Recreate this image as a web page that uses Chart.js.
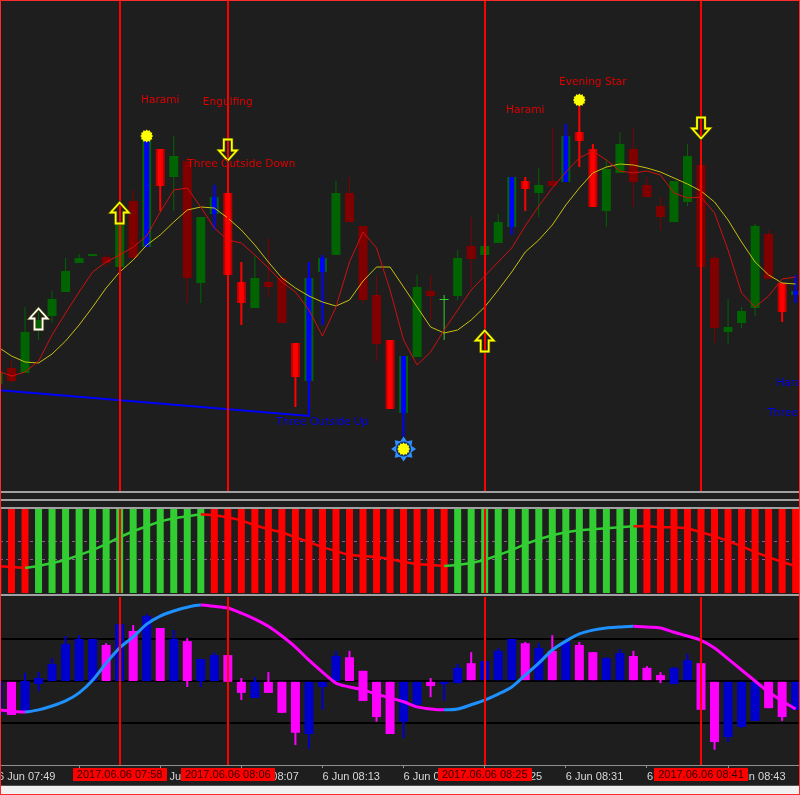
<!DOCTYPE html>
<html>
<head>
<meta charset="utf-8">
<title>Candlestick patterns chart</title>
<script src="https://cdn.jsdelivr.net/npm/chart.js@4.4.1/dist/chart.umd.min.js"></script>
<style>
  html, body { margin:0; padding:0; background:#1e1e1e; }
  #wrap { position:relative; width:800px; height:795px; background:#1e1e1e; overflow:hidden; }
  #wrap canvas { position:absolute; left:0; }
  .sep { position:absolute; left:0; width:800px; height:2px; background:#a0a0a0; }
  #footline { position:absolute; left:0; top:785px; width:800px; height:1px; background:#505050; }
  #foot { position:absolute; left:0; top:786px; width:800px; height:9px; background:#f0f0f0; }
  #frame { position:absolute; left:0; top:0; width:800px; height:795px; box-sizing:border-box; border:1px solid #ff2a2a; pointer-events:none; }
</style>
</head>
<body>
<div id="wrap">
  <canvas id="main" width="800" height="491" style="top:0px"></canvas>
  <div class="sep" style="top:491px"></div>
  <div class="sep" style="top:499px"></div>
  <div class="sep" style="top:507px"></div>
  <canvas id="trend" width="800" height="84" style="top:509px"></canvas>
  <div class="sep" style="top:594px"></div>
  <canvas id="osc" width="800" height="188" style="top:597px"></canvas>
  <div id="footline"></div>
  <div id="foot"></div>
  <div id="frame"></div>
</div>
<script>
// ---------------- categories (one bar per minute, 6 Jun 2017) ----------------
const times = [
  '07:49','07:50','07:51','07:52','07:53','07:54','07:55','07:56','07:57','07:58',
  '07:59','08:00','08:01','08:02','08:03','08:04','08:05','08:06','08:07','08:08',
  '08:09','08:10','08:11','08:12','08:13','08:14','08:15','08:16','08:17','08:18',
  '08:19','08:20','08:21','08:22','08:23','08:24','08:25','08:26','08:27','08:28',
  '08:29','08:30','08:31','08:32','08:33','08:34','08:35','08:36','08:37','08:38',
  '08:39','08:40','08:41','08:42','08:43','08:44','08:45','08:46','08:47','08:48'
];

// ---------------- price candles (points) ----------------
const open = [
  116,132,127,170,184,208,237,244,243,233,
  299,253,351,323,339,217,286,307,218,192,
  218,222,157,119,228,245,307,274,205,160,
  87,143,209,200,204,254,245,257,273,319,
  307,319,318,368,351,289,327,351,315,294,
  278,298,335,242,168,177,192,266,217,205
];
const high = [
  128,140,193,188,209,242,246,246,245,282,
  310,362,351,364,343,283,315,307,238,244,
  262,225,157,238,245,319,323,274,225,160,
  144,225,225,205,250,283,256,286,323,323,
  332,372,376,397,356,341,368,372,323,303,
  319,356,335,245,201,193,276,270,217,225
];
const low = [
  114,117,127,160,177,208,237,244,233,233,
  242,253,289,289,197,197,270,225,175,192,
  203,177,93,119,175,245,278,197,139,91,
  63,143,180,160,200,213,245,257,265,289,
  283,314,318,333,293,273,327,293,303,270,
  278,294,233,157,156,172,184,221,178,197
];
const close = [
  127,119,168,180,201,229,242,246,237,278,
  242,360,314,344,222,283,303,225,197,222,
  213,177,123,222,242,307,278,200,156,91,
  144,213,204,201,242,241,254,278,323,311,
  315,314,364,359,293,331,356,318,303,283,
  319,344,233,172,173,189,274,221,188,209
];
// pattern highlight of each candle
const candleSignal = [
  '-','-','-','-','-','-','-','-','-','-',
  '-','bull','bear','-','-','-','bull','bear','bear','-',
  '-','-','bear','bull','bull','-','-','-','-','bear',
  'bull','-','-','doji','-','-','-','-','bull','bear',
  '-','-','bull','bear','bear','-','-','-','-','-',
  '-','-','-','-','-','-','-','-','bear','bull'
];
const fastMA = [
  129,124,128,139,165,187,208,228,238,245,
  253,264,288,310,312,293,272,260,257,245,
  232,218,208,190,164,193,238,268,252,210,
  160,135,148,170,190,210,224,238,252,274,
  294,312,328,342,349,340,329,327,329,325,
  307,302,303,287,250,207,193,204,221,223
];
const slowMA = [
  153,144,138,137,146,159,175,193,212,228,
  240,255,265,278,290,293,292,282,270,255,
  238,222,212,204,198,194,200,219,233,233,
  213,193,173,167,170,180,193,210,228,248,
  260,275,295,312,327,333,336,335,332,328,
  322,316,309,298,280,258,238,225,217,216
];
const supportTimes = ['07:49','08:12','08:12'];
const supportValues = [110, 84, 119];

// pattern labels, arrows and stars
const patternTimes  = ['08:01','08:06','08:07','08:28','08:33','08:13','08:48','08:49'];
const patternValues = [400, 398, 336, 390, 418, 78, 117, 87];
const patternNames  = ['Harami','Engulfing','Three Outside Down','Harami','Evening Star','Three Outside Up','Harami','Three Inside Up'];
const patternSide   = ['bear','bear','bear','bear','bear','bull','bull','bull'];
const arrowTimes  = ['07:52','07:58','08:06','08:25','08:41'];
const arrowValues = [181, 287, 350, 159, 372];
const arrowDirs   = ['up','up','down','up','down'];
const arrowColors = ['#ffffff','#ffff00','#ffff00','#ffff00','#ffff00'];
const starTimes  = ['08:00','08:32','08:19'];
const starValues = [364, 400, 51];
const starRinged = [false, false, true];

// vertical marker lines
const markerTimes  = ['07:58','08:06','08:25','08:41'];
const markerLabels = ['2017.06.06 07:58','2017.06.06 08:06','2017.06.06 08:25','2017.06.06 08:41'];

// ---------------- trend panel ----------------
const trendState = [
  -1,-1,-1, 1,1,1,1,1,1,1,1,1,1,1,1,1,
  -1,-1,-1,-1,-1,-1,-1,-1,-1,-1,-1,-1,-1,-1,-1,-1,-1,-1,
  1,1,1,1,1,1,1,1,1,1,1,1,1,1,
  -1,-1,-1,-1,-1,-1,-1,-1,-1,-1,-1,-1
];
const trendLine = [
  32.2,31.1,30.0,32.2,35.6,38.9,44.4,50.0,56.7,64.4,
  71.1,76.7,82.2,85.6,87.8,90.0,88.9,86.7,83.3,77.8,
  73.3,70.0,64.4,58.9,53.3,48.9,44.4,43.3,42.2,40.0,
  36.7,34.4,33.3,32.2,33.3,35.6,38.9,44.4,50.0,56.7,
  62.2,66.7,70.0,72.2,73.3,74.4,75.6,76.7,76.7,75.6,
  75.6,74.4,70.0,65.6,60.0,54.4,47.8,42.2,36.7,32.2
];
const trendLevels = [60, 40];
const trendMin = 2, trendMax = 96;

// ---------------- oscillator panel ----------------
const oscOpen = [
  -80,-2,-71,-7,0,0,0,0,85,0,
  118,0,125,0,94,0,0,61,-2,-40,
  -2,-2,-2,-125,-14,0,56,24,-2,-2,
  -96,-56,-2,-7,-5,42,2,2,2,89,
  2,71,2,85,68,2,2,59,31,14,
  -7,2,42,-2,-132,-108,-94,-2,-2,-68
];
const oscClose = [
  0,-80,0,7,40,87,99,99,0,134,
  0,153,0,99,0,52,61,-2,-28,-2,
  -28,-75,-122,-2,-2,59,0,-47,-85,-125,
  -2,-2,-12,-2,31,2,47,71,99,2,
  78,2,92,2,2,54,66,2,2,2,
  31,49,-68,-144,-2,-2,-2,-64,-85,-2
];
const oscHigh = [
  0,-2,19,21,54,106,108,99,89,134,
  132,158,125,120,101,52,68,61,7,9,
  21,-2,-2,-2,-2,71,71,24,-2,-2,
  -2,-2,7,-2,40,68,47,78,99,92,
  89,108,101,92,68,56,75,71,35,21,
  33,64,42,-2,-2,-2,-2,-2,-2,-2
];
const oscLow = [
  -92,-80,-71,-24,0,0,0,0,0,0,
  0,0,0,0,-14,-14,0,-2,-45,-40,
  -28,-75,-151,-160,-68,0,0,-47,-96,-125,
  -134,-56,-38,-47,-5,2,2,2,2,2,
  2,2,2,2,2,2,2,2,2,-5,
  -7,2,-68,-162,-144,-111,-94,-64,-94,-68
];
const oscSignal = [
  -68,-71,-73,-68,-59,-47,-28,2,42,78,
  104,134,153,165,174,179,176,172,160,146,
  129,106,80,49,21,-5,-14,-21,-31,-40,
  -49,-61,-66,-68,-66,-56,-45,-31,-14,14,
  42,73,94,111,120,125,127,129,127,125,
  115,106,96,78,52,26,0,-26,-47,-66
];
const oscLevels = [100, 0, -100];

// ---------------- axis ----------------
const tickTimes  = ['07:49','07:55','08:01','08:07','08:13','08:19','08:25','08:31','08:37','08:43'];
const tickLabels = ['6 Jun 07:49','6 Jun 07:55','6 Jun 08:01','6 Jun 08:07','6 Jun 08:13','6 Jun 08:19','6 Jun 08:25','6 Jun 08:31','6 Jun 08:37','6 Jun 08:43'];

// ---------------- helpers ----------------
const xOf = t => { const [h, m] = t.split(':').map(Number); return h * 60 + m - (7 * 60 + 49); };
const xMin = 0.1494, xMax = 59.3214;
const pxX = (c, t) => c.scales.x.getPixelForValue(xOf(t));
const pxY = (c, v) => c.scales.y.getPixelForValue(v);

const isUp = k => close[k] >= open[k];
const isSig = k => candleSignal[k] === 'bull' || candleSignal[k] === 'bear';
const outerFill = k => ({bull:'#006400', bear:'#c00000', doji:'#32cd32'}[candleSignal[k]] || (isUp(k) ? '#006400' : '#800000'));
const innerFill = k => ({bull:'#0000ff', bear:'#ff0000'}[candleSignal[k]] || outerFill(k));
const wickColor = k => ({bull:'#0000ff', bear:'#ff0000', doji:'#32cd32'}[candleSignal[k]] || (isUp(k) ? '#006400' : '#800000'));
const bodyRange = k => [Math.min(open[k], close[k]), Math.max(open[k], close[k])];

const common = {
  responsive: false, animation: false, devicePixelRatio: 1, events: [],
  layout: { padding: 0, autoPadding: false },
  plugins: { legend: { display: false }, tooltip: { enabled: false } }
};
const hiddenX = { type: 'linear', min: xMin, max: xMax, offset: false, display: false, grid: { offset: false } };

function drawMarkers(chart) {
  const { ctx, chartArea: a } = chart;
  ctx.save();
  ctx.strokeStyle = '#ff0000'; ctx.lineWidth = 2;
  markerTimes.forEach(t => {
    const x = Math.round(pxX(chart, t));
    ctx.beginPath(); ctx.moveTo(x, a.top); ctx.lineTo(x, a.bottom); ctx.stroke();
  });
  ctx.restore();
}

function drawArrow(ctx, x, y, dir, color) {
  const h = 21, hw = 9, sw = 4, hh = 10;
  const s = dir === 'up' ? 1 : -1;
  const tip = y - s * h / 2;
  ctx.beginPath();
  ctx.moveTo(x, tip);
  ctx.lineTo(x + hw, tip + s * hh);
  ctx.lineTo(x + sw, tip + s * hh);
  ctx.lineTo(x + sw, tip + s * h);
  ctx.lineTo(x - sw, tip + s * h);
  ctx.lineTo(x - sw, tip + s * hh);
  ctx.lineTo(x - hw, tip + s * hh);
  ctx.closePath();
  ctx.strokeStyle = '#404000'; ctx.lineWidth = 3.2; ctx.stroke();
  ctx.strokeStyle = color; ctx.lineWidth = 1.8; ctx.stroke();
}

function drawStar(ctx, x, y, ringed) {
  if (ringed) {
    ctx.beginPath();
    for (let j = 0; j < 16; j++) {
      const r = j % 2 === 0 ? 12.5 : 8.5, ang = j * Math.PI / 8 - Math.PI / 2;
      ctx.lineTo(x + r * Math.cos(ang), y + r * Math.sin(ang));
    }
    ctx.closePath(); ctx.fillStyle = '#2f8fff'; ctx.fill();
    ctx.beginPath(); ctx.arc(x, y, 7.5, 0, 2 * Math.PI); ctx.fillStyle = '#14306a'; ctx.fill();
  }
  ctx.beginPath();
  for (let j = 0; j < 24; j++) {
    const r = j % 2 === 0 ? 6.5 : 5.2, ang = j * Math.PI / 12;
    ctx.lineTo(x + r * Math.cos(ang), y + r * Math.sin(ang));
  }
  ctx.closePath(); ctx.fillStyle = '#ffff00'; ctx.fill();
}

const mainPlugin = {
  id: 'mainDecor',
  afterDatasetsDraw(chart) {
    drawMarkers(chart);
    const ctx = chart.ctx;
    ctx.save();
    arrowTimes.forEach((t, j) => drawArrow(ctx, pxX(chart, t), pxY(chart, arrowValues[j]), arrowDirs[j], arrowColors[j]));
    starTimes.forEach((t, j) => drawStar(ctx, pxX(chart, t), pxY(chart, starValues[j]), starRinged[j]));
    ctx.font = '10.6px "DejaVu Sans", sans-serif';
    ctx.textAlign = 'center'; ctx.textBaseline = 'middle';
    patternTimes.forEach((t, j) => {
      ctx.fillStyle = patternSide[j] === 'bear' ? '#e00000' : '#0000e8';
      ctx.fillText(patternNames[j], pxX(chart, t), pxY(chart, patternValues[j]));
    });
    ctx.restore();
  }
};

// ---------------- main price chart ----------------
new Chart(document.getElementById('main'), {
  type: 'bar',
  data: {
    datasets: [
      { type: 'line', data: times.map((t, k) => ({ x: xOf(t), y: fastMA[k] })), borderColor: '#d01010', borderWidth: 1, pointRadius: 0, tension: 0, order: 1 },
      { type: 'line', data: times.map((t, k) => ({ x: xOf(t), y: slowMA[k] })), borderColor: '#c8c010', borderWidth: 1, pointRadius: 0, tension: 0, order: 1 },
      { type: 'line', data: supportTimes.map((t, j) => ({ x: xOf(t), y: supportValues[j] })), borderColor: '#0000ff', borderWidth: 2, pointRadius: 0, tension: 0, order: 1 },
      // inner stripe of highlighted candles
      { type: 'bar', grouped: false, barThickness: 5, minBarLength: 1, inflateAmount: 0, borderWidth: 0,
        data: times.map((t, k) => ({ x: xOf(t), y: isSig(k) ? bodyRange(k) : null })),
        backgroundColor: times.map((t, k) => innerFill(k)), order: 2 },
      // candle bodies
      { type: 'bar', grouped: false, barThickness: 9, minBarLength: 1, inflateAmount: 0, borderWidth: 0,
        data: times.map((t, k) => ({ x: xOf(t), y: bodyRange(k) })),
        backgroundColor: times.map((t, k) => outerFill(k)), order: 3 },
      // wicks
      { type: 'bar', grouped: false, barThickness: 1, inflateAmount: 0, borderWidth: 0,
        data: times.map((t, k) => ({ x: xOf(t), y: isSig(k) ? null : [low[k], high[k]] })),
        backgroundColor: times.map((t, k) => wickColor(k)), order: 4 },
      { type: 'bar', grouped: false, barThickness: 2, inflateAmount: 0, borderWidth: 0,
        data: times.map((t, k) => ({ x: xOf(t), y: isSig(k) ? [low[k], high[k]] : null })),
        backgroundColor: times.map((t, k) => wickColor(k)), order: 4 }
    ]
  },
  options: Object.assign({}, common, {
    scales: { x: hiddenX, y: { min: 9, max: 500, display: false } }
  }),
  plugins: [mainPlugin]
});

// ---------------- trend panel ----------------
new Chart(document.getElementById('trend'), {
  type: 'bar',
  data: {
    datasets: [
      { type: 'line', data: times.map((t, k) => ({ x: xOf(t), y: trendLine[k] })), borderWidth: 2.5, pointRadius: 0, tension: 0,
        borderColor: '#ff0000',
        segment: { borderColor: c => c.p1.parsed.y > c.p0.parsed.y ? '#32cd32' : '#ff0000' }, order: 1 },
      { type: 'bar', grouped: false, barThickness: 7, inflateAmount: 0, borderWidth: 0,
        data: times.map((t, k) => ({ x: xOf(t), y: [trendMin, trendMax] })),
        backgroundColor: trendState.map(s => s > 0 ? '#32cd32' : '#ff0000'), order: 2 }
    ]
  },
  options: Object.assign({}, common, {
    scales: { x: hiddenX, y: { min: trendMin, max: trendMax, display: false } }
  }),
  plugins: [{
    id: 'trendDecor',
    beforeDatasetsDraw(chart) {
      const { ctx, chartArea: a } = chart;
      ctx.save();
      ctx.strokeStyle = '#9b4f9b'; ctx.lineWidth = 1; ctx.setLineDash([3, 3]);
      trendLevels.forEach(v => { const y = Math.round(pxY(chart, v)) + 0.5; ctx.beginPath(); ctx.moveTo(a.left, y); ctx.lineTo(a.right, y); ctx.stroke(); });
      ctx.restore();
    },
    afterDatasetsDraw(chart) { drawMarkers(chart); }
  }]
});

// ---------------- oscillator panel + time axis ----------------
const oscUp = k => oscClose[k] > oscOpen[k];
new Chart(document.getElementById('osc'), {
  type: 'bar',
  data: {
    datasets: [
      { type: 'line', data: times.map((t, k) => ({ x: xOf(t), y: oscSignal[k] })), borderWidth: 3, pointRadius: 0, tension: 0.3,
        borderColor: '#ff00ff',
        segment: { borderColor: c => c.p1.parsed.y > c.p0.parsed.y ? '#1e90ff' : '#ff00ff' }, order: 1 },
      { type: 'bar', grouped: false, barThickness: 9, minBarLength: 1, inflateAmount: 0, borderWidth: 0,
        data: times.map((t, k) => ({ x: xOf(t), y: [Math.min(oscOpen[k], oscClose[k]), Math.max(oscOpen[k], oscClose[k])] })),
        backgroundColor: times.map((t, k) => oscUp(k) ? '#0000cd' : '#ff00ff'), order: 2 },
      { type: 'bar', grouped: false, barThickness: 2, inflateAmount: 0, borderWidth: 0,
        data: times.map((t, k) => ({ x: xOf(t), y: [oscLow[k], oscHigh[k]] })),
        backgroundColor: times.map((t, k) => oscUp(k) ? '#0000cd' : '#ff00ff'), order: 3 }
    ]
  },
  options: Object.assign({}, common, {
    scales: {
      x: {
        type: 'linear', min: xMin, max: xMax, offset: false, position: 'bottom',
        afterBuildTicks: s => { s.ticks = tickTimes.map(t => ({ value: xOf(t) })); },
        afterFit: s => { s.height = 20; s.paddingLeft = 0; s.paddingRight = 0; },
        ticks: { autoSkip: false, maxRotation: 0, minRotation: 0, align: 'start', padding: 2, color: '#d8d8d8',
          font: { family: '"Liberation Sans", Arial, sans-serif', size: 11 },
          callback: (v, i) => tickLabels[i] },
        grid: { display: true, drawOnChartArea: false, drawTicks: true, tickLength: 3, color: '#909090', offset: false },
        border: { display: true, color: '#909090' }
      },
      y: { min: -198, max: 198, display: false }
    }
  }),
  plugins: [{
    id: 'oscDecor',
    beforeDatasetsDraw(chart) {
      const { ctx, chartArea: a } = chart;
      ctx.save();
      ctx.strokeStyle = '#000000'; ctx.lineWidth = 2;
      oscLevels.forEach(v => { const y = Math.round(pxY(chart, v)); ctx.beginPath(); ctx.moveTo(a.left, y); ctx.lineTo(a.right, y); ctx.stroke(); });
      ctx.restore();
    },
    afterDatasetsDraw(chart) { drawMarkers(chart); },
    afterDraw(chart) {
      const { ctx, chartArea: a } = chart;
      ctx.save();
      ctx.font = '11px "Liberation Sans", Arial, sans-serif';
      ctx.textAlign = 'center'; ctx.textBaseline = 'middle';
      markerTimes.forEach((t, j) => {
        const x = pxX(chart, t);
        const w = Math.round(ctx.measureText(markerLabels[j]).width + 8);
        ctx.fillStyle = '#ff0000';
        ctx.fillRect(Math.round(x - w / 2), a.bottom + 3, w, 13);
        ctx.fillStyle = '#300000';
        ctx.fillText(markerLabels[j], x, a.bottom + 10);
      });
      ctx.restore();
    }
  }]
});
</script>
</body>
</html>
